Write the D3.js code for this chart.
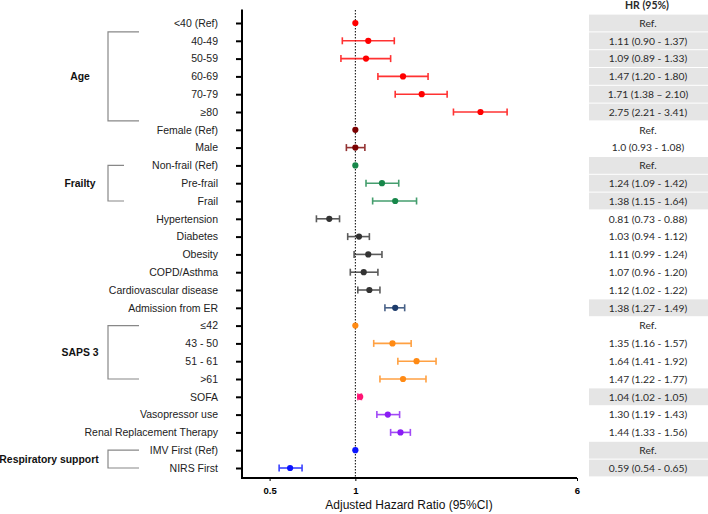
<!DOCTYPE html>
<html><head><meta charset="utf-8">
<script src="https://cdn.jsdelivr.net/npm/d3@7"></script>
<style>body{margin:0;background:#fff}svg{display:block}</style>
</head><body><svg id="c" width="708" height="514"></svg>
<script>
const labels = ["<40 (Ref)","40-49","50-59","60-69","70-79","≥80","Female (Ref)","Male","Non-frail (Ref)","Pre-frail","Frail","Hypertension","Diabetes","Obesity","COPD/Asthma","Cardiovascular disease","Admission from ER","≤42","43 - 50","51 - 61",">61","SOFA","Vasopressor use","Renal Replacement Therapy","IMV First (Ref)","NIRS First"];
const hr = [1,1.11,1.09,1.47,1.71,2.75,1,1.0,1,1.24,1.38,0.81,1.03,1.11,1.07,1.12,1.38,1,1.35,1.64,1.47,1.04,1.30,1.44,1,0.59];
const lo = [null,0.90,0.89,1.20,1.38,2.21,null,0.93,null,1.09,1.15,0.73,0.94,0.99,0.96,1.02,1.27,null,1.16,1.41,1.22,1.02,1.19,1.33,null,0.54];
const hi = [null,1.37,1.33,1.80,2.10,3.41,null,1.08,null,1.42,1.64,0.88,1.12,1.24,1.20,1.22,1.49,null,1.57,1.92,1.77,1.05,1.43,1.56,null,0.65];
const hrText = ["Ref.","1.11 (0.90 - 1.37)","1.09 (0.89 - 1.33)","1.47 (1.20 - 1.80)","1.71 (1.38 – 2.10)","2.75 (2.21 - 3.41)","Ref.","1.0 (0.93 - 1.08)","Ref.","1.24 (1.09 - 1.42)","1.38 (1.15 - 1.64)","0.81 (0.73 - 0.88)","1.03 (0.94 - 1.12)","1.11 (0.99 - 1.24)","1.07 (0.96 - 1.20)","1.12 (1.02 - 1.22)","1.38 (1.27 - 1.49)","Ref.","1.35 (1.16 - 1.57)","1.64 (1.41 - 1.92)","1.47 (1.22 - 1.77)","1.04 (1.02 - 1.05)","1.30 (1.19 - 1.43)","1.44 (1.33 - 1.56)","Ref.","0.59 (0.54 - 0.65)"];
const colorKey = ["age","age","age","age","age","age","sex","sex","frail","frail","frail","com","com","com","com","com","er","saps","saps","saps","saps","sofa","icu","icu","resp","resp"];
const shaded = [1,1,1,1,1,1,0,0,1,1,1,0,0,0,0,0,1,0,0,0,0,1,0,0,1,1];
const groupNames = ["Age","Frailty","SAPS 3","Respiratory support"];
const groupFrom = [0.5,8,17,24];
const groupTo = [5.5,10,20,25];
const groupLabelRow = [3,9,18.5,24.5];
const xTicks = [0.5,1,6];
const xTitle = "Adjusted Hazard Ratio (95%CI)";
const tableHeader = "HR (95%)";

const palette = {age:"#ff0000",sex:"#7a0000",frail:"#17874a",com:"#333333",er:"#1c3b6b",saps:"#ff8a14",sofa:"#ff1474",icu:"#8a1cf5",resp:"#0a14ff"};
const armEnd = [139,124,139,139];
const labelX = [80,80,80,49];

const svg = d3.select("#c");
const x = d3.scaleLog().domain([0.4,6]).range([242,577]);
const y = d3.scaleLinear().domain([0,25]).range([23,468]);
const rowH = y(1)-y(0);
const idx = d3.range(labels.length);

// table
const tbl = svg.append("g");
tbl.selectAll("rect").data(idx.filter(i=>shaded[i])).join("rect")
  .attr("x",589).attr("width",119).attr("y",i=>y(i)-rowH/2+0.5).attr("height",rowH-1)
  .attr("fill","#e5e5e5");
tbl.selectAll("text").data(idx).join("text")
  .attr("x",648).attr("y",i=>y(i)+3.7).attr("text-anchor","middle")
  .attr("font-family","Lato, 'Open Sans', sans-serif").attr("font-size",10.3).attr("fill","#2a2a2a")
  .text(i=>hrText[i]);
svg.append("text").attr("x",647).attr("y",9).attr("text-anchor","middle")
  .attr("font-family","Lato, 'Open Sans', sans-serif").attr("font-weight","bold").attr("font-size",10.5).attr("fill","#2a2a2a")
  .text(tableHeader);

// reference line
svg.append("line").attr("x1",x(1)).attr("x2",x(1)).attr("y1",10).attr("y2",478)
  .attr("stroke","#000").attr("stroke-width",1).attr("stroke-dasharray","1.5,1.5");

// y axis
const yAxis = d3.axisLeft(y).tickValues(idx).tickSize(6).tickFormat(i=>labels[i]).tickPadding(18);
const gy = svg.append("g").attr("transform","translate(242,0)").call(yAxis);
gy.select(".domain").remove();
gy.selectAll(".tick line").attr("stroke","#000").attr("stroke-width",2);
gy.selectAll(".tick text").attr("font-family","'Liberation Sans', Arial, sans-serif").attr("font-size",10.5).attr("fill","#222").attr("x",-24);
svg.append("line").attr("x1",242).attr("x2",242).attr("y1",9.5).attr("y2",479).attr("stroke","#000").attr("stroke-width",2);

// x axis
const xAxis = d3.axisBottom(x).tickValues(xTicks).tickSize(3).tickFormat(d3.format("")).tickPadding(6);
const gx = svg.append("g").attr("transform","translate(0,478)").call(xAxis);
gx.select(".domain").remove();
gx.selectAll(".tick line").attr("stroke","#000").attr("stroke-width",1);
gx.selectAll(".tick text").attr("font-family","'Liberation Sans', Arial, sans-serif").attr("font-weight","bold").attr("font-size",9.5).attr("fill","#000");
svg.append("line").attr("x1",241).attr("x2",577).attr("y1",478).attr("y2",478).attr("stroke","#000").attr("stroke-width",2);
svg.append("text").attr("x",409).attr("y",509).attr("text-anchor","middle")
  .attr("font-family","'Liberation Sans', Arial, sans-serif").attr("font-size",12).attr("fill","#111").text(xTitle);

// error bars
const ci = idx.filter(i=>lo[i]!=null);
const eb = svg.append("g");
ci.forEach(i=>{
  const c = palette[colorKey[i]];
  const g = eb.append("g").attr("stroke",c).attr("stroke-width",1.6).attr("opacity",0.8);
  g.append("line").attr("x1",x(lo[i])).attr("x2",x(hi[i])).attr("y1",y(i)).attr("y2",y(i));
  g.append("line").attr("x1",x(lo[i])).attr("x2",x(lo[i])).attr("y1",y(i)-3.5).attr("y2",y(i)+3.5);
  g.append("line").attr("x1",x(hi[i])).attr("x2",x(hi[i])).attr("y1",y(i)-3.5).attr("y2",y(i)+3.5);
});
svg.append("g").selectAll("circle").data(idx).join("circle")
  .attr("cx",i=>x(hr[i])).attr("cy",i=>y(i)).attr("r",3.1).attr("fill",i=>palette[colorKey[i]]);

// group brackets
const br = svg.append("g");
groupNames.forEach((n,k)=>{
  const y1 = y(groupFrom[k]), y2 = y(groupTo[k]);
  br.append("path").attr("d",`M${armEnd[k]},${y1}H108V${y2}H${armEnd[k]}`)
    .attr("fill","none").attr("stroke","#888").attr("stroke-width",1.2);
  br.append("text").attr("x",labelX[k]).attr("y",y(groupLabelRow[k])+3.7).attr("text-anchor","middle")
    .attr("font-family","'Liberation Sans', Arial, sans-serif").attr("font-weight","bold").attr("font-size",10.4).attr("fill","#111").text(n);
});
</script></body></html>
